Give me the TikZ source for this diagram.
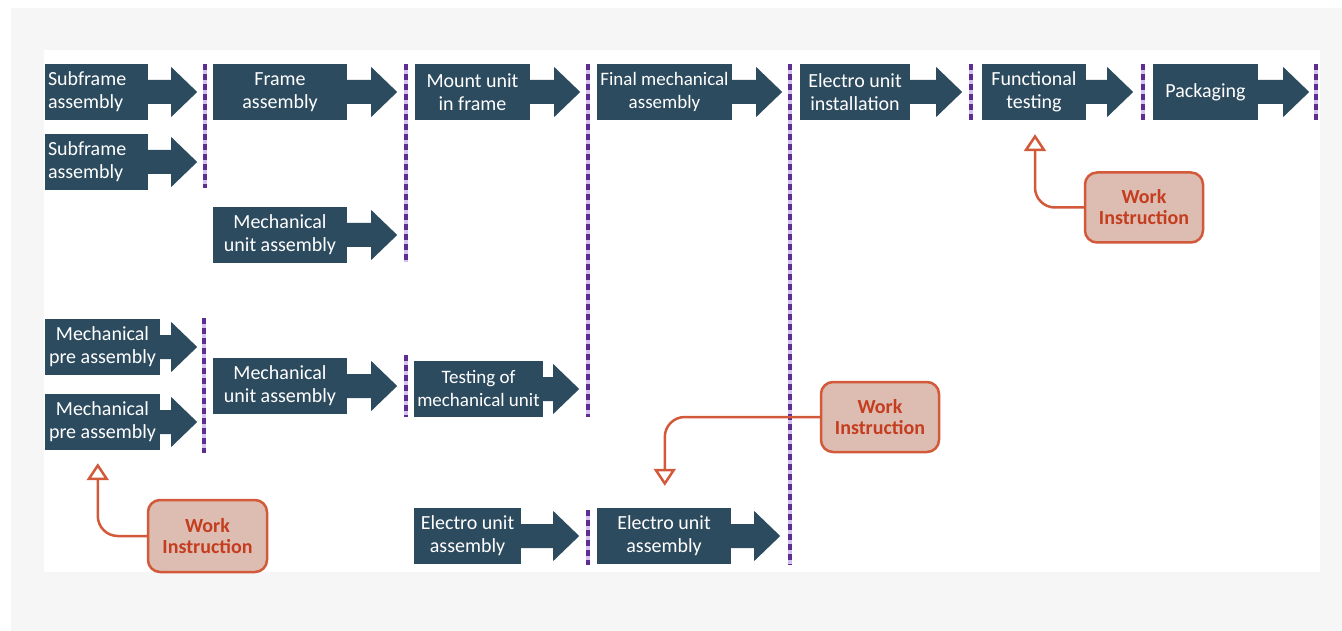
\documentclass[tikz,border=0pt]{standalone}
\usepackage{fontspec}
\setmainfont{Carlito}
\usepackage{xcolor}
\usepackage{tikz}
\usetikzlibrary{arrows.meta}
\definecolor{stepblue}{HTML}{2D4B5F}
\definecolor{barpurple}{HTML}{5E2D91}
\definecolor{barlight}{HTML}{D3C3EE}
\definecolor{wiedge}{HTML}{D2593A}
\definecolor{wifill}{HTML}{DDBCB2}
\definecolor{witext}{HTML}{C43D1E}
\definecolor{pagegray}{HTML}{F6F6F7}

\begin{document}
\begin{tikzpicture}[x=1pt,y=-1pt,
  stepbox/.style={fill=stepblue, text=white, minimum height=56, inner xsep=3pt, inner ysep=2pt,
    align=center, font=\fontsize{20}{23}\selectfont},
  wibox/.style={draw=wiedge, fill=wifill, line width=2.5pt, rounded corners=12pt, text=witext,
    align=center, minimum width=118, minimum height=70, font=\bfseries\fontsize{20}{21}\selectfont},
  wiline/.style={draw=wiedge, line width=2.5pt, rounded corners=20pt,
    -{Triangle[open, width=22pt, length=17pt]}},
  syncbar/.style={draw=barpurple, line width=4pt, dash pattern=on 6pt off 4pt,
    preaction={draw=barlight, line width=4pt}}]
\useasboundingbox (0,0) rectangle (1342,631);
%background
\fill[white] (0,0) rectangle (1342,631);
\fill[pagegray] (11,8) rectangle (1342,631);
\fill[white] (44,50) rectangle (1320,572);
%sync bars
\foreach \x/\a/\b in {205/64/188, 406/64/262, 588/64/417, 790/64/565, 971/64/120, 1143/64/120,
  1316/64/120, 204/318/453, 406/355/417, 588/510/565}
  \draw[syncbar] (\x,\a) -- (\x,\b);
%steps
\node[stepbox, minimum width=103, text width=97, align=left] (sub1) at (96.5,92) {Subframe\\assembly};
\node[stepbox, minimum width=103, text width=97, align=left] (sub2) at (96.5,162) {Subframe\\assembly};
\node[stepbox, minimum width=134] (frame) at (280,92) {Frame\\assembly};
\node[stepbox, minimum width=134] (mech1) at (280,235) {Mechanical\\unit assembly};
\node[stepbox, minimum width=115] (mount) at (472.5,92) {Mount unit\\in frame};
\node[stepbox, minimum width=135, inner xsep=1pt, font=\fontsize{19}{23}\selectfont] (final) at (664.5,92) {Final mechanical\\assembly};
\node[stepbox, minimum width=110] (einst) at (855,92) {Electro unit\\installation};
\node[stepbox, minimum width=104] (ftest) at (1034,92) {Functional\\testing};
\node[stepbox, minimum width=105] (pack) at (1205.5,92) {Packaging};
\node[stepbox, minimum width=115] (pre1) at (102.5,347) {Mechanical\\pre assembly};
\node[stepbox, minimum width=115] (pre2) at (102.5,422) {Mechanical\\pre assembly};
\node[stepbox, minimum width=134] (mech2) at (280,386) {Mechanical\\unit assembly};
\node[stepbox, minimum width=129, inner xsep=1pt, font=\fontsize{19}{23}\selectfont] (mtest) at (478.5,389) {Testing of\\mechanical unit};
\node[stepbox, minimum width=107] (eass1) at (467.5,536) {Electro unit\\assembly};
\node[stepbox, minimum width=134] (eass2) at (664,536) {Electro unit\\assembly};
%arrow tails
\foreach \n/\l in {sub1/49, sub2/49, frame/50, mech1/50, mount/50, final/50, einst/52, ftest/47,
  pack/51, pre1/37, pre2/37, mech2/50, mtest/36, eass1/58, eass2/49}
  \fill[stepblue] (\n.east) ++(-1,-12) -- ++(\l-25,0) -- ++(0,-13) -- ++(26,25)
    -- ++(-26,25) -- ++(0,-13) -- ++(-\l+25,0) -- cycle;
%work instructions
\node[wibox, minimum width=119, minimum height=72] (wi1) at (207.5,536) {Work\\Instruction};
\node[wibox] (wi2) at (880,417) {Work\\Instruction};
\node[wibox] (wi3) at (1144,207.5) {Work\\Instruction};
\draw[wiline] (wi1.west) -| ([xshift=53pt,yshift=-13pt]pre2.south west);
\draw[wiline] (wi2.west) -| ([xshift=68pt,yshift=22pt]eass2.north west);
\draw[wiline] (wi3.west) -| ([xshift=1pt,yshift=-14pt]ftest.south);
\end{tikzpicture}
\end{document}
